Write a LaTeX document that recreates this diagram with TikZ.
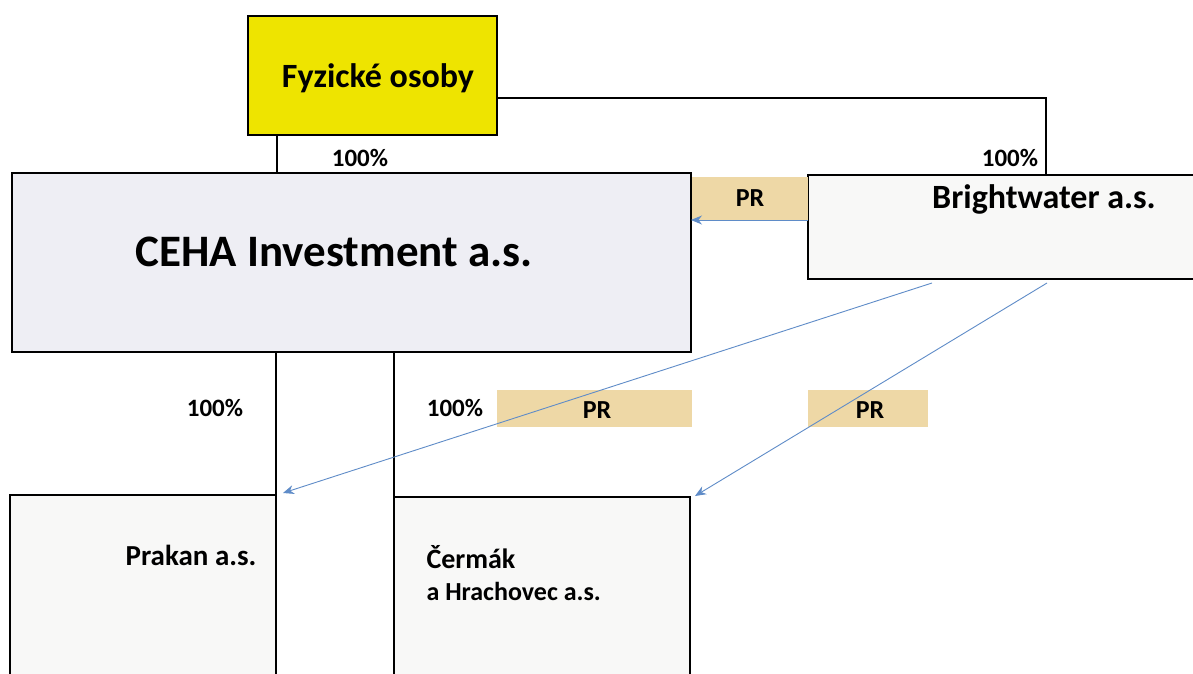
\documentclass[tikz,border=0pt]{standalone}
\usepackage{fontspec}
\setmainfont{Carlito}
\usetikzlibrary{arrows.meta,calc}
\definecolor{fyzyellow}{RGB}{238,228,0}
\definecolor{cehafill}{RGB}{238,238,244}
\definecolor{boxfill}{RGB}{248,248,247}
\definecolor{prtan}{RGB}{238,216,166}
\definecolor{arrblue}{RGB}{95,140,200}
\tikzset{
  box/.style={draw=black, line width=1.4pt, inner sep=0pt, outer sep=0pt},
  prbox/.style={fill=prtan, inner sep=0pt, outer sep=0pt, font=\bfseries\fontsize{26}{30}\selectfont},
  pct/.style={inner sep=0pt, font=\bfseries\fontsize{25}{29}\selectfont},
  link/.style={draw=black, line width=1.4pt},
  arr/.style={draw=arrblue, line width=0.9pt, -{Stealth[length=11pt,width=9pt]}},
}
\begin{document}
\begin{tikzpicture}[x=1pt,y=-1pt]
\clip (0,0) rectangle (1193,674);
\fill[white] (0,0) rectangle (1193,674);
% boxes
\node[box, fill=fyzyellow, minimum width=249pt, minimum height=119pt] (fo) at (372.5,75.5) {};
\node[font=\bfseries\fontsize{34}{38}\selectfont] (fot) at (378,78) {Fyzické osoby};
\node[box, fill=cehafill, minimum width=679pt, minimum height=179pt] (ceha) at (351.5,262.5) {};
\node[font=\bfseries\fontsize{45}{50}\selectfont] (cehat) at (334,252) {CEHA Investment a.s.};
\node[box, fill=boxfill, minimum width=400pt, minimum height=104pt] (bw) at (1008,227) {};
\node[font=\bfseries\fontsize{34}{38}\selectfont] (bwt) at (1044,199) {Brightwater a.s.};
\node[box, fill=boxfill, minimum width=266pt, minimum height=200pt] (prakan) at (143,595) {};
\node[font=\bfseries\fontsize{29}{33}\selectfont] (prakant) at (191,555) {Prakan a.s.};
\node[box, fill=boxfill, minimum width=296pt, minimum height=200pt] (cermak) at (542,597) {};
\node[font=\bfseries\fontsize{28}{32}\selectfont, anchor=west] (cermakt) at (423,557) {Čermák};
\node[font=\bfseries\fontsize{26}{30}\selectfont, anchor=west] (cermakt2) at (423,591) {a Hrachovec a.s.};
% PR labels
\node[prbox, minimum width=116pt, minimum height=43pt] (pr1) at (750,198.5) {PR};
\node[prbox, minimum width=195pt, minimum height=37pt] (pr2) at (594.5,408.5) {};
\node[prbox] (pr2t) at (597,410) {PR};
\node[prbox, minimum width=120pt, minimum height=37pt] (pr3) at (868,408.5) {};
\node[prbox] (pr3t) at (870,410) {PR};
% percentages
\node[pct] (p1) at (360,158) {100\%};
\node[pct] (p2) at (1010,158) {100\%};
\node[pct] (p3) at (215,408) {100\%};
\node[pct] (p4) at (455,408) {100\%};
% ownership lines
\draw[link] ([xshift=29pt]fo.south west) -- ([xshift=29pt]fo.south west |- ceha.north);
\draw[link] ([yshift=-22.5pt]fo.east) -| ([xshift=238pt]bw.north west);
\draw[link] (ceha.south -| prakan.east) -- (prakan.north east);
\draw[link] (ceha.south -| cermak.west) -- (cermak.north west);
% PR arrows
\draw[arr] (bw.west |- pr1.south) -- (ceha.east |- pr1.south);
\draw[arr] ([shift={(124pt,-4pt)}]bw.south west) -- ([shift={(7pt,2pt)}]prakan.north east);
\draw[arr] ([shift={(239pt,-4pt)}]bw.south west) -- ([shift={(5pt,1pt)}]cermak.north east);
\end{tikzpicture}
\end{document}
